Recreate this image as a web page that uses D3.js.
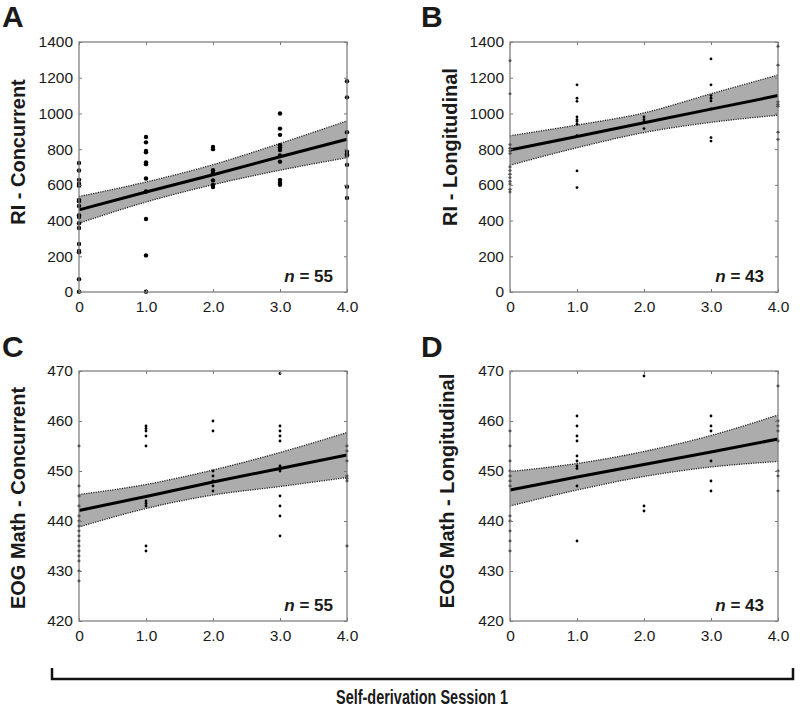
<!DOCTYPE html>
<html>
<head>
<meta charset="utf-8">
<script src="https://cdn.jsdelivr.net/npm/d3@7"></script>
<style>
  body { margin: 0; background: #fff; }
  svg text { font-family: "Liberation Sans", Arial, sans-serif; fill: #1a1a1a; }
</style>
</head>
<body>
<div id="fig"></div>
<script>
// x categories (self-derivation session 1 score)
const sessions = [0, 1, 2, 3, 4];
const xTickLabels = ["0", "1.0", "2.0", "3.0", "4.0"];
const riTicks = [0, 200, 400, 600, 800, 1000, 1200, 1400];
const eogTicks = [420, 430, 440, 450, 460, 470];

// A - RI concurrent : points per session column
const riConcPts = [
  [722, 680, 628, 606, 595, 516, 508, 482, 430, 420, 385, 358, 269, 230, 222, 72, 2],
  [868, 838, 790, 782, 726, 716, 636, 563, 409, 205, 2],
  [812, 800, 682, 665, 625, 600, 588],
  [1000, 915, 880, 822, 810, 795, 765, 730, 628, 612, 600],
  [1180, 1090, 895, 785, 772, 765, 712, 590, 527]
];
const riConcFit = [460, 560, 657, 757, 855];
const riConcUpper = [535, 616, 713, 832, 958];
const riConcLower = [385, 504, 601, 682, 752];

// B - RI longitudinal
const riLongPts = [
  [1295, 1110, 825, 805, 790, 775, 700, 680, 660, 640, 620, 605, 575, 560],
  [1160, 1085, 1068, 980, 965, 955, 940, 875, 678, 585],
  [980, 965, 950, 915],
  [1305, 1160, 1100, 1085, 1070, 1025, 865, 845],
  [1375, 1270, 1065, 1050, 1040, 895, 855]
];
const riLongFit = [795, 871, 948, 1024, 1100];
const riLongUpper = [875, 935, 1003, 1110, 1215];
const riLongLower = [710, 808, 893, 950, 990];

// C - EOG math concurrent
const eogConcPts = [
  [455, 447, 445, 443, 441, 440, 439, 438, 437, 436, 435, 434, 433, 432, 430, 428],
  [459, 458.5, 458, 457, 455, 444, 443.5, 443, 435, 434],
  [460, 458, 450, 449, 448, 447, 446],
  [469.5, 459, 458, 457, 456, 451, 450.5, 450, 445, 443, 441, 437],
  [455, 454, 452, 449, 448.5, 448, 435]
];
const eogConcFit = [442.1, 444.9, 447.8, 450.5, 453.2];
const eogConcUpper = [445.3, 447.3, 450.2, 453.7, 457.7];
const eogConcLower = [438.8, 442.5, 445.2, 446.9, 448.7];

// D - EOG math longitudinal
const eogLongPts = [
  [458, 455, 452, 450, 449, 448, 447, 441, 440, 438, 436, 434],
  [461, 459, 457, 456, 453, 452, 451, 450.5, 447, 436],
  [469, 443, 442],
  [461, 459, 458, 452, 448, 446],
  [467, 460, 459, 458, 456, 450, 449, 446]
];
const eogLongFit = [446.2, 448.8, 451.3, 453.8, 456.4];
const eogLongUpper = [449.9, 451.5, 453.9, 457.1, 461.2];
const eogLongLower = [443.0, 446.2, 448.9, 450.8, 451.9];

const W = 800, H = 709;
const w = 268, h = 250;

const panels = [
  {letter: "A", label: "RI - Concurrent", n: 55, ticks: riTicks, pts: riConcPts,
   fit: riConcFit, upper: riConcUpper, lower: riConcLower,
   x: 79, y: 42, r: 2.2, lx: 25, ly: 152, letterX: 2, letterY: 27},
  {letter: "B", label: "RI - Longitudinal", n: 43, ticks: riTicks, pts: riLongPts,
   fit: riLongFit, upper: riLongUpper, lower: riLongLower,
   x: 510, y: 42, r: 1.4, lx: 457, ly: 147, letterX: 421, letterY: 27},
  {letter: "C", label: "EOG Math - Concurrent", n: 55, ticks: eogTicks, pts: eogConcPts,
   fit: eogConcFit, upper: eogConcUpper, lower: eogConcLower,
   x: 79, y: 371, r: 1.4, lx: 25, ly: 498, letterX: 2, letterY: 357},
  {letter: "D", label: "EOG Math - Longitudinal", n: 43, ticks: eogTicks, pts: eogLongPts,
   fit: eogLongFit, upper: eogLongUpper, lower: eogLongLower,
   x: 510, y: 371, r: 1.4, lx: 454, ly: 491, letterX: 421, letterY: 357}
];

const svg = d3.select("#fig").append("svg")
  .attr("width", W)
  .attr("height", H);

const xScale = d3.scaleLinear().domain([0, 4]).range([0, w]);

panels.forEach(p => {
  const yScale = d3.scaleLinear()
    .domain(d3.extent(p.ticks))
    .range([h, 0]);

  // panel letter
  svg.append("text")
    .attr("x", p.letterX)
    .attr("y", p.letterY)
    .style("font-size", "30px")
    .style("font-weight", "bold")
    .text(p.letter);

  // y label
  svg.append("text")
    .attr("transform", `translate(${p.lx},${p.ly}) rotate(-90)`)
    .attr("text-anchor", "middle")
    .style("font-size", "20px")
    .style("font-weight", "bold")
    .text(p.label);

  const g = svg.append("g")
    .attr("transform", `translate(${p.x},${p.y})`);

  // confidence band
  const band = d3.area()
    .x((d, i) => xScale(sessions[i]))
    .y0((d, i) => yScale(p.lower[i]))
    .y1(d => yScale(d))
    .curve(d3.curveMonotoneX);

  g.append("path")
    .datum(p.upper)
    .attr("d", band)
    .attr("fill", "#acacac");

  const edge = d3.line()
    .x((d, i) => xScale(sessions[i]))
    .y(d => yScale(d))
    .curve(d3.curveMonotoneX);

  [p.upper, p.lower].forEach(arr => {
    g.append("path")
      .datum(arr)
      .attr("d", edge)
      .attr("fill", "none")
      .attr("stroke", "#222")
      .attr("stroke-width", 1.3)
      .attr("stroke-dasharray", "1.2,1.2");
  });

  // regression line
  g.append("path")
    .datum(p.fit)
    .attr("d", edge.curve(d3.curveLinear))
    .attr("fill", "none")
    .attr("stroke", "#000")
    .attr("stroke-width", 3);

  // data points
  const flat = p.pts.flatMap((col, i) => col.map(v => ({s: sessions[i], v: v})));
  g.selectAll("circle.pt")
    .data(flat)
    .enter()
    .append("circle")
    .attr("class", "pt")
    .attr("cx", d => xScale(d.s))
    .attr("cy", d => yScale(d.v))
    .attr("r", p.r)
    .attr("fill", "#000");

  // axes, ticks inward on all four sides
  const yAxis = d3.axisLeft(yScale).tickValues(p.ticks)
    .tickFormat(d3.format("d")).tickSize(-3).tickPadding(6);
  const xAxis = d3.axisBottom(xScale).tickValues(sessions)
    .tickFormat((d, i) => xTickLabels[i]).tickSize(-3).tickPadding(9);

  const ya = g.append("g").call(yAxis);
  const xa = g.append("g").attr("transform", `translate(0,${h})`).call(xAxis);
  const yr = g.append("g").attr("transform", `translate(${w},0)`)
    .call(d3.axisRight(yScale).tickValues(p.ticks).tickSize(-3).tickFormat(""));
  const xt = g.append("g")
    .call(d3.axisTop(xScale).tickValues(sessions).tickSize(-3).tickFormat(""));

  [ya, xa, yr, xt].forEach(a => {
    a.select(".domain").remove();
    a.selectAll("line").attr("stroke", "#777");
    a.selectAll("text")
      .style("font-size", "15.5px")
      .style("font-family", "'Liberation Sans', Arial, sans-serif")
      .attr("fill", "#1a1a1a");
  });

  g.append("rect")
    .attr("width", w)
    .attr("height", h)
    .attr("fill", "none")
    .attr("stroke", "#808080")
    .attr("stroke-width", 1.3);

  // n label
  const nt = g.append("text")
    .attr("x", w - 14)
    .attr("y", h - 10)
    .attr("text-anchor", "end")
    .style("font-size", "17px")
    .style("font-weight", "bold");
  nt.append("tspan").style("font-style", "italic").text("n");
  nt.append("tspan").text(" = " + p.n);
});

// bottom bracket and shared x label
const bracket = d3.line();
svg.append("path")
  .attr("d", bracket([[52, 668], [52, 679], [793, 679], [793, 668]]))
  .attr("fill", "none")
  .attr("stroke", "#111")
  .attr("stroke-width", 2.5);

svg.append("text")
  .attr("x", 422)
  .attr("y", 704)
  .attr("text-anchor", "middle")
  .attr("textLength", 172)
  .attr("lengthAdjust", "spacingAndGlyphs")
  .style("font-size", "20px")
  .style("font-weight", "bold")
  .text("Self-derivation Session 1");
</script>
</body>
</html>
